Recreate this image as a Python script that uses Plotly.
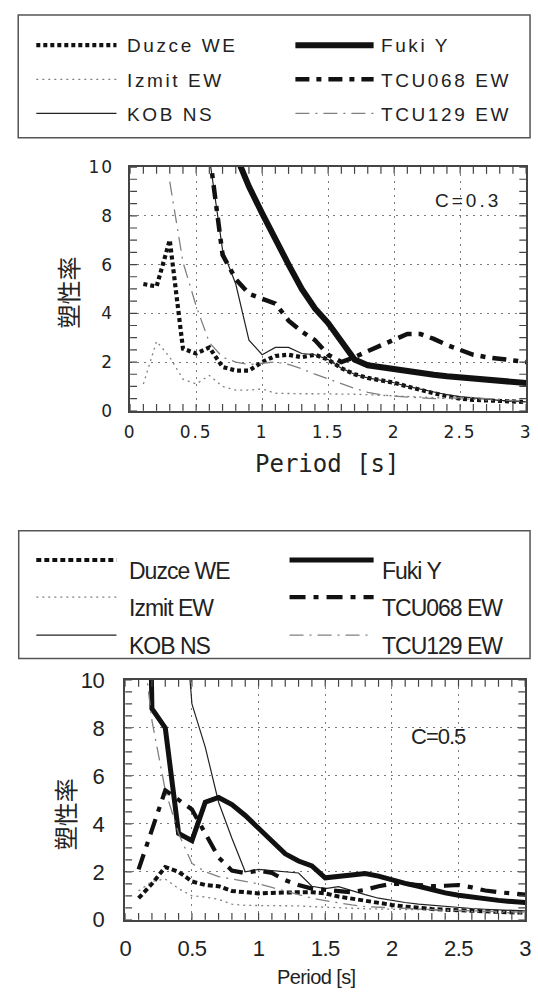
import plotly.graph_objects as go

W, H = 538, 1003

# ---------------- data ----------------
series_names = ["Duzce WE", "Izmit EW", "KOB NS", "Fuki Y", "TCU068 EW", "TCU129 EW"]

periods = [0.1, 0.2, 0.3, 0.4, 0.5, 0.6, 0.7, 0.8, 0.9, 1.0,
           1.1, 1.2, 1.3, 1.4, 1.5, 1.6, 1.7, 1.8, 1.9, 2.0,
           2.1, 2.2, 2.3, 2.4, 2.5, 2.6, 2.7, 2.8, 2.9, 3.0]

# C = 0.3
duzce_c03 = [5.2, 5.1, 7.0, 2.55, 2.35, 2.6, 1.8, 1.65, 1.65, 2.0,
             2.25, 2.3, 2.2, 2.3, 2.1, 1.75, 1.5, 1.35, 1.25, 1.15,
             1.0, 0.85, 0.72, 0.6, 0.5, 0.45, 0.42, 0.4, 0.38, 0.36]
izmit_c03 = [1.1, 2.85, 2.2, 1.3, 1.1, 1.45, 1.0, 0.85, 0.85, 0.9,
             0.72, 0.7, 0.7, 0.7, 0.7, 0.7, 0.68, 0.66, 0.64, 0.62,
             0.6, 0.58, 0.56, 0.54, 0.5, 0.47, 0.44, 0.41, 0.38, 0.35]
kob_c03_periods = periods[5:]
kob_c03 = [10.4, 6.6, 5.2, 2.9, 2.3, 2.6, 2.6, 2.35, 2.3, 2.1,
           1.75, 1.5, 1.35, 1.25, 1.15, 1.0, 0.88, 0.76, 0.66, 0.58,
           0.52, 0.47, 0.43, 0.4, 0.37]
fuki_c03_periods = periods[7:]
fuki_c03 = [10.5, 9.2, 8.1, 7.0, 6.0, 5.0, 4.2, 3.6, 2.85, 2.1,
            1.87, 1.78, 1.7, 1.62, 1.55, 1.48, 1.42, 1.37, 1.32, 1.27,
            1.22, 1.18, 1.14]
tcu068_c03_periods = periods[5:]
tcu068_c03 = [10.6, 6.4, 5.4, 4.8, 4.6, 4.4, 3.7, 3.25, 2.9, 2.3,
              2.0, 2.2, 2.45, 2.7, 2.95, 3.15, 3.15, 2.95, 2.7, 2.5,
              2.3, 2.2, 2.12, 2.06, 2.0]
tcu129_c03_periods = periods[2:]
tcu129_c03 = [9.4, 6.1, 4.3, 2.8, 2.2, 2.0, 1.9, 1.95, 2.0, 1.9,
              1.72, 1.5, 1.3, 1.12, 0.92, 0.76, 0.66, 0.6, 0.56, 0.53,
              0.5, 0.52, 0.54, 0.55, 0.5, 0.45, 0.42, 0.4]

# C = 0.5
duzce_c05 = [0.9, 1.5, 2.2, 2.0, 1.6, 1.45, 1.4, 1.2, 1.15, 1.1,
             1.12, 1.15, 1.15, 1.15, 1.1, 0.97, 0.88, 0.78, 0.68, 0.62,
             0.55, 0.48, 0.45, 0.42, 0.39, 0.37, 0.35, 0.33, 0.31, 0.3]
izmit_c05 = [1.2, 1.6, 1.7, 1.3, 1.0, 0.95, 0.85, 0.65, 0.6, 0.6,
             0.6, 0.6, 0.58, 0.55, 0.52, 0.5, 0.48, 0.46, 0.45, 0.45,
             0.44, 0.42, 0.41, 0.4, 0.38, 0.35, 0.33, 0.3, 0.29, 0.28]
kob_c05_periods = periods[3:]
kob_c05 = [16.0, 9.0, 7.2, 4.9, 3.4, 2.0, 2.1, 2.05, 2.0, 1.95,
           1.4, 1.3, 1.38, 1.2, 1.05, 0.9, 0.8, 0.72, 0.65, 0.6,
           0.55, 0.5, 0.47, 0.44, 0.41, 0.39, 0.37]
fuki_c05 = [40.0, 8.8, 8.0, 3.6, 3.3, 4.9, 5.1, 4.8, 4.35, 3.8,
            3.25, 2.75, 2.45, 2.25, 1.75, 1.8, 1.88, 1.93, 1.82, 1.65,
            1.52, 1.4, 1.25, 1.12, 1.02, 0.94, 0.87, 0.81, 0.76, 0.72]
tcu068_c05 = [2.1, 3.7, 5.4, 5.0, 4.6, 3.6, 2.6, 2.05, 1.95, 2.05,
              1.95, 1.65, 1.45, 1.3, 1.25, 1.18, 1.15, 1.25, 1.4, 1.5,
              1.5, 1.45, 1.4, 1.42, 1.45, 1.35, 1.22, 1.15, 1.1, 1.05]
tcu129_c05 = [13.0, 8.3, 5.4, 3.6, 2.35, 2.0, 1.8, 1.7, 1.6, 1.5,
              1.35, 1.2, 1.05, 0.9, 0.8, 0.7, 0.62, 0.55, 0.52, 0.5,
              0.47, 0.45, 0.43, 0.4, 0.39, 0.38, 0.36, 0.35, 0.33, 0.32]

x_tickvals = [0, 0.5, 1, 1.5, 2, 2.5, 3]
x_ticktext = ["0", "0.5", "1", "1.5", "2", "2.5", "3"]
y_tickvals = [0, 2, 4, 6, 8, 10]
y_ticktext = ["0", "2", "4", "6", "8", "10"]
x_minor_ticks = [round(0.1 * k, 1) for k in range(31)]
y_minor_ticks = [0.5 * k for k in range(21)]

panel_labels = ["C=0.3", "C=0.5"]
x_title = "Period [s]"
y_title = "塑性率"

panel_data = [
    {
        "Duzce WE": (periods, duzce_c03),
        "Izmit EW": (periods, izmit_c03),
        "KOB NS": (kob_c03_periods, kob_c03),
        "Fuki Y": (fuki_c03_periods, fuki_c03),
        "TCU068 EW": (tcu068_c03_periods, tcu068_c03),
        "TCU129 EW": (tcu129_c03_periods, tcu129_c03),
    },
    {
        "Duzce WE": (periods, duzce_c05),
        "Izmit EW": (periods, izmit_c05),
        "KOB NS": (kob_c05_periods, kob_c05),
        "Fuki Y": (periods, fuki_c05),
        "TCU068 EW": (periods, tcu068_c05),
        "TCU129 EW": (periods, tcu129_c05),
    },
]

# ---------------- styles ----------------
styles = [
    {
        "Duzce WE": dict(color="#111", width=4.2, dash="4px,3px"),
        "Izmit EW": dict(color="#808080", width=1.3, dash="2px,4px"),
        "KOB NS": dict(color="#222", width=1.2, dash="solid"),
        "Fuki Y": dict(color="#111", width=6, dash="solid"),
        "TCU068 EW": dict(color="#111", width=4.5, dash="14px,7px,5px,7px"),
        "TCU129 EW": dict(color="#808080", width=1.3, dash="14px,6px,2px,6px"),
    },
    {
        "Duzce WE": dict(color="#111", width=4.0, dash="5px,3px"),
        "Izmit EW": dict(color="#808080", width=1.3, dash="2px,4px"),
        "KOB NS": dict(color="#222", width=1.2, dash="solid"),
        "Fuki Y": dict(color="#111", width=5, dash="solid"),
        "TCU068 EW": dict(color="#111", width=4.2, dash="16px,8px,5px,8px"),
        "TCU129 EW": dict(color="#808080", width=1.3, dash="14px,6px,2px,6px"),
    },
]

def px_x(p):
    return p / W

def px_y(p):
    return 1 - p / H

# plot areas in pixels: (left, right, top, bottom)
areas = [(127, 532, 159, 409), (122, 531, 685, 931)]
axis_ids = [("x", "y"), ("x2", "y2")]

fig = go.Figure()

axis_fonts = [
    dict(family="DejaVu Sans, Liberation Sans", size=17, color="#222"),
    dict(family="Liberation Sans, Arial", size=22, color="#222"),
]
spacing = ["2px", "-0.6px"]
x_standoff = [5, 8]
y_standoff = [11, 15]

for i, data in enumerate(panel_data):
    xa, ya = axis_ids[i]
    for name in series_names:
        t, v = data[name]
        fig.add_trace(go.Scatter(
            x=t, y=v, mode="lines", name=name, showlegend=False,
            line=dict(**styles[i][name]), xaxis=xa, yaxis=ya,
        ))

def wrap(s, sp):
    return f'<span style="letter-spacing:{sp}">{s}</span>'

def axis_common(font):
    return dict(
        showline=True, linecolor="#444", linewidth=1.5, mirror=True,
        ticks="", showgrid=True, gridcolor="#7a7a7a", griddash="2px,5px", gridwidth=1.3,
        zeroline=False, tickfont=font,
    )

shapes = []
tick_len = 7
for i, area in enumerate(areas):
    l, r, t, b = area
    font = axis_fonts[i]
    sp = spacing[i]
    xa_id, ya_id = axis_ids[i]
    xkey = "xaxis" if i == 0 else "xaxis2"
    ykey = "yaxis" if i == 0 else "yaxis2"
    xa = axis_common(font)
    xa.update(
        domain=[px_x(l), px_x(r)], range=[0, 3], anchor=ya_id,
        tickmode="array", tickvals=x_tickvals, ticktext=[wrap(s, sp) for s in x_ticktext],
        ticklabelstandoff=x_standoff[i],
    )
    ya = axis_common(font)
    ya.update(
        domain=[px_y(b), px_y(t)], range=[0, 10], anchor=xa_id,
        tickmode="array", tickvals=y_tickvals, ticktext=[wrap(s, sp) for s in y_ticktext],
        ticklabelstandoff=y_standoff[i],
    )
    fig.update_layout({xkey: xa, ykey: ya})

    # inward tick marks on all four sides, placed through the axes
    fy = tick_len / (b - t)
    fx = tick_len / (r - l)
    for tv in x_minor_ticks:
        for y0, y1 in ((0, fy), (1, 1 - fy)):
            shapes.append(dict(type="line", xref=xa_id, yref=f"{ya_id} domain",
                               x0=tv, x1=tv, y0=y0, y1=y1,
                               line=dict(color="#444", width=1.2)))
    for tv in y_minor_ticks:
        for x0, x1 in ((0, fx), (1, 1 - fx)):
            shapes.append(dict(type="line", xref=f"{xa_id} domain", yref=ya_id,
                               x0=x0, x1=x1, y0=tv, y1=tv,
                               line=dict(color="#444", width=1.2)))

annotations = []

# axis titles & panel labels
xt_fonts = [dict(family="DejaVu Sans Mono", size=24, color="#222"),
            dict(family="Liberation Sans, Arial", size=20, color="#222")]
yt_pos = [(63, 288), (60, 823)]
lab_pos = [(437, 193), (412, 743)]
lab_fonts = [dict(family="Liberation Sans, Arial", size=19, color="#222"),
             dict(family="Liberation Sans, Arial", size=22, color="#222")]
annotations.append(dict(
    x=px_x(329), y=px_y(464), xref="paper", yref="paper",
    text=x_title, showarrow=False, xanchor="center", yanchor="middle", font=xt_fonts[0]))
annotations.append(dict(
    x=px_x(318), y=0, xref="paper", yref="paper",
    text=wrap(x_title, "-0.6px"), showarrow=False, xanchor="center", yanchor="bottom",
    font=xt_fonts[1]))
for i in range(2):
    annotations.append(dict(
        x=px_x(yt_pos[i][0]), y=px_y(yt_pos[i][1]), xref="paper", yref="paper",
        text=y_title, showarrow=False, textangle=-90,
        xanchor="center", yanchor="middle",
        font=dict(family="Noto Sans CJK JP", size=24, color="#222")))
    annotations.append(dict(
        x=px_x(lab_pos[i][0]), y=px_y(lab_pos[i][1]), xref="paper", yref="paper",
        text=wrap(panel_labels[i], "3px" if i == 0 else "-1px"), showarrow=False,
        xanchor="left", yanchor="middle", font=lab_fonts[i]))

# legend boxes (pixel layout)
legend_boxes = [(12.5, 536, 3, 129), (13, 536, 532, 663)]
legend_order = [["Duzce WE", "Izmit EW", "KOB NS"], ["Fuki Y", "TCU068 EW", "TCU129 EW"]]
legend_cfg = [
    dict(line_y=[34, 69, 104], text_y=[34, 70, 105],
         line_x=[(31, 113), (296, 376)], text_x=[122, 381],
         font=dict(family="Liberation Sans, Arial", size=19, color="#222"), sp="2.6px"),
    dict(line_y=[562, 600, 639], text_y=[573, 611, 650],
         line_x=[(31, 113), (290, 376)], text_x=[124, 383],
         font=dict(family="Liberation Sans, Arial", size=23, color="#222"), sp="-1px"),
]
for i in range(2):
    l, r, t, b = legend_boxes[i]
    shapes.append(dict(type="rect", xref="paper", yref="paper",
                       x0=px_x(l), x1=px_x(r), y0=px_y(b), y1=px_y(t),
                       line=dict(color="#555", width=1.5), fillcolor="rgba(0,0,0,0)"))
    cfg = legend_cfg[i]
    for c, col in enumerate(legend_order):
        for rr, name in enumerate(col):
            st = styles[i][name]
            lx0, lx1 = cfg["line_x"][c]
            ly = cfg["line_y"][rr]
            shapes.append(dict(type="line", xref="paper", yref="paper",
                               x0=px_x(lx0), x1=px_x(lx1), y0=px_y(ly), y1=px_y(ly),
                               line=dict(color=st["color"], width=st["width"], dash=st["dash"])))
            annotations.append(dict(
                x=px_x(cfg["text_x"][c]), y=px_y(cfg["text_y"][rr]), xref="paper", yref="paper",
                text=wrap(name, cfg["sp"]), showarrow=False, xanchor="left", yanchor="middle",
                font=cfg["font"]))

fig.update_layout(
    width=W, height=H, margin=dict(l=0, r=0, t=0, b=0),
    paper_bgcolor="white", plot_bgcolor="white",
    showlegend=False, annotations=annotations, shapes=shapes,
)

fig.write_html("out.html")
